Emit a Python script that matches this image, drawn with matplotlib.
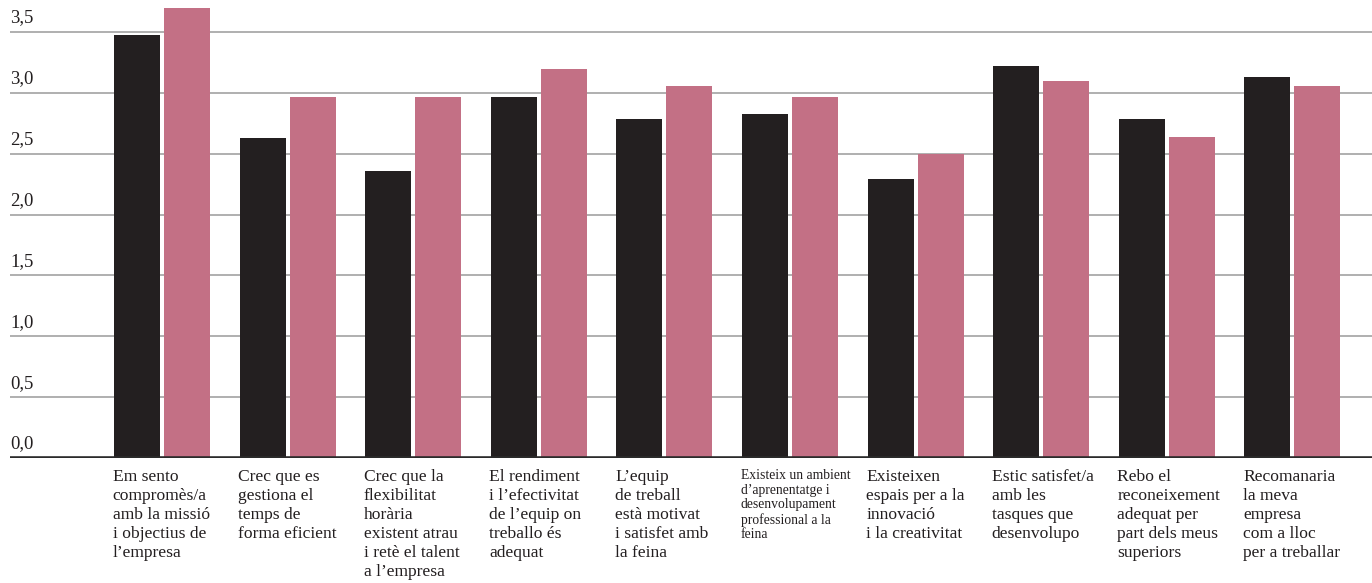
import numpy as np
import matplotlib.pyplot as plt

# Data
labels = [
    "Em sento\ncompromès/a\namb la missió\ni objectius de\nl’empresa",
    "Crec que es\ngestiona el\ntemps de\nforma eficient",
    "Crec que la\nflexibilitat\nhorària\nexistent atrau\ni retè el talent\na l’empresa",
    "El rendiment\ni l’efectivitat\nde l’equip on\ntreballo és\nadequat",
    "L’equip\nde treball\nestà motivat\ni satisfet amb\nla feina",
    "Existeix un ambient\nd’aprenentatge i\ndesenvolupament\nprofessional a la\nfeina",
    "Existeixen\nespais per a la\ninnovació\ni la creativitat",
    "Estic satisfet/a\namb les\ntasques que\ndesenvolupo",
    "Rebo el\nreconeixement\nadequat per\npart dels meus\nsuperiors",
    "Recomanaria\nla meva\nempresa\ncom a lloc\nper a treballar",
]
serie_a = [3.48, 2.63, 2.36, 2.97, 2.79, 2.83, 2.29, 3.22, 2.79, 3.13]
serie_b = [3.70, 2.97, 2.97, 3.20, 3.06, 2.97, 2.50, 3.10, 2.64, 3.06]
yticks = [0.0, 0.5, 1.0, 1.5, 2.0, 2.5, 3.0, 3.5]
small_label = 5  # index of the label set in a smaller size

black = '#231f20'
pink = '#c37085'
plt.rcParams['font.family'] = ['Liberation Serif', 'DejaVu Serif']

fig = plt.figure(figsize=(13.72, 5.83), dpi=100)
ax = fig.add_axes([10/1372, 125/583, 1362/1372, 458/583])

x = np.arange(len(labels))
w = 0.366
off = 0.199
ax.bar(x - off, serie_a, width=w, color=black, zorder=3)
ax.bar(x + off, serie_b, width=w, color=pink, zorder=3)

ax.set_xlim(-1.21, 9.634)
ax.set_ylim(0, 3.764)
for s in ax.spines.values():
    s.set_visible(False)
ax.set_xticks([])
ax.set_yticks([])

for v in yticks[1:]:
    ax.axhline(v, color='#9a9a9a', lw=1.1, zorder=1)
ax.axhline(0, color='#2b2b2b', lw=2.6, zorder=4)

for v in yticks:
    ax.annotate(f"{v:.1f}".replace('.', ','), xy=(0, v), xycoords=('axes fraction', 'data'),
                xytext=(0, 4), textcoords='offset points', ha='left', va='bottom',
                fontsize=13.5, color='#231f20')

for i, lab in enumerate(labels):
    fs = 9.8 if i == small_label else 12.6
    ls = 1.15 if i == small_label else 1.24
    ax.annotate(lab, xy=(i - off - w/2, 0), xycoords=('data', 'axes fraction'),
                xytext=(-1, -8), textcoords='offset points', ha='left', va='top',
                fontsize=fs, linespacing=ls, color='#231f20')

fig.savefig('out.png', dpi=100)
